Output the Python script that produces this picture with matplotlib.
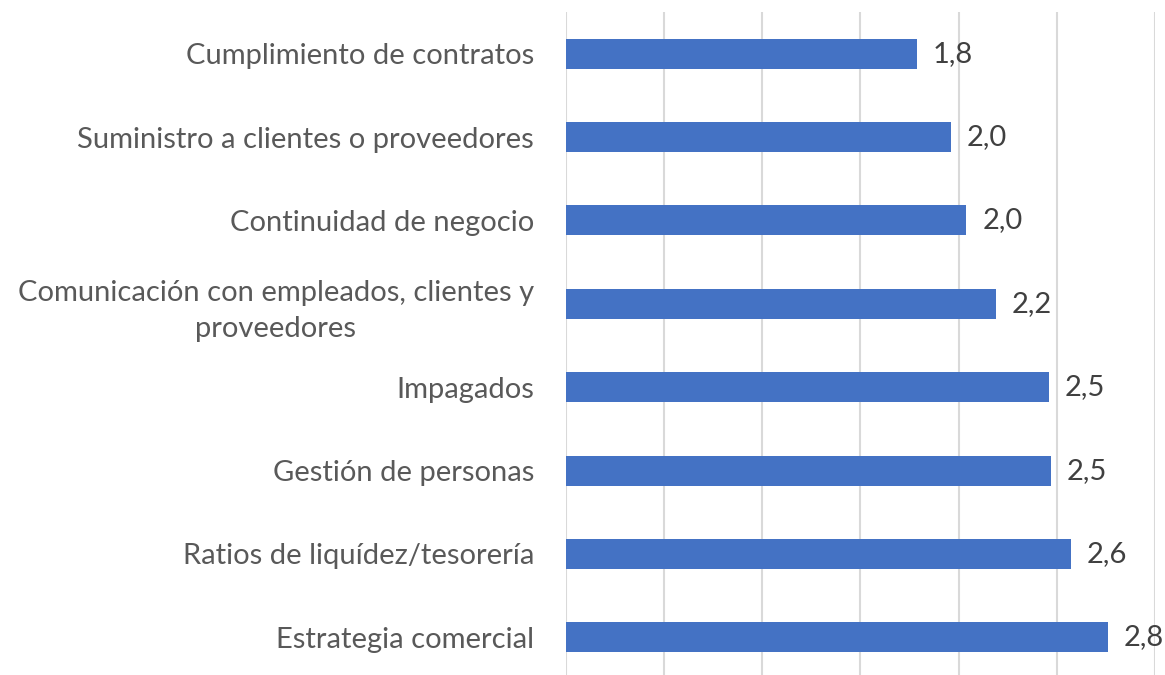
import numpy as np
import matplotlib.pyplot as plt

# Data (top to bottom)
categories = [
    "Cumplimiento de contratos",
    "Suministro a clientes o proveedores",
    "Continuidad de negocio",
    "Comunicación con empleados, clientes y\nproveedores",
    "Impagados",
    "Gestión de personas",
    "Ratios de liquídez/tesorería",
    "Estrategia comercial",
]
values = [1.79, 1.96, 2.04, 2.19, 2.46, 2.47, 2.57, 2.76]

bar_color = "#4472C4"
text_color = "#595959"
grid_color = "#D9D9D9"

plt.rcParams['font.family'] = ['Lato', 'DejaVu Sans']

fig = plt.figure(figsize=(11.65, 6.75), dpi=100)
ax = fig.add_axes([0.4858, -0.0059, 0.5056, 0.988])

y = np.arange(len(categories))
bars = ax.barh(y, values, height=0.36, color=bar_color)

# value labels with decimal comma
for b, v in zip(bars, values):
    ax.text(b.get_width() + 0.08, b.get_y() + b.get_height() / 2,
            f"{v:.1f}".replace(".", ","), va="center", ha="left",
            fontsize=21, color="#404040")

ax.set_xlim(0, 3.0)
ax.set_ylim(len(categories) - 0.5, -0.5)
ax.set_xticks(np.arange(0, 3.01, 0.5))
ax.set_xticklabels([])
ax.set_yticks(y)
ax.set_yticklabels(categories, fontsize=21, color=text_color, ha="right",
                   multialignment="center", linespacing=1.45)
ax.tick_params(axis="y", length=0, pad=23)
ax.tick_params(axis="x", length=0)
ax.grid(axis="x", color=grid_color, linewidth=1.5)
ax.set_axisbelow(True)
for s in ax.spines.values():
    s.set_visible(False)

fig.savefig("out.png", dpi=100)
